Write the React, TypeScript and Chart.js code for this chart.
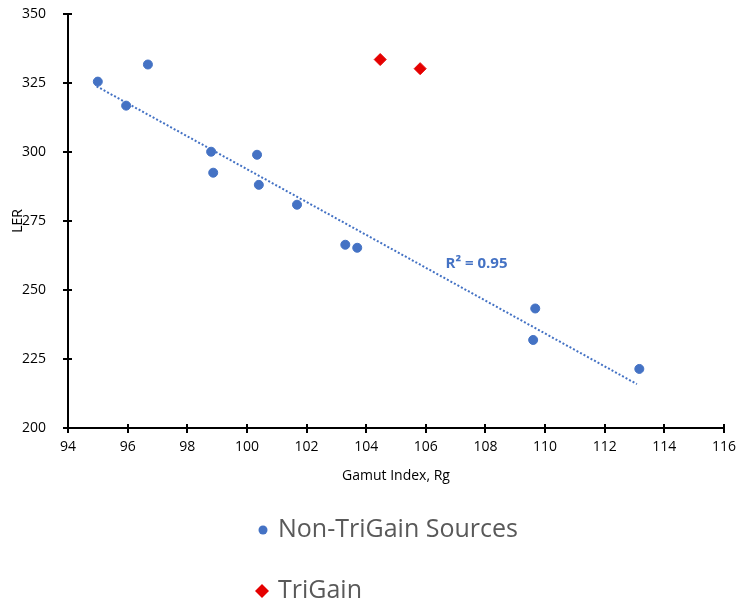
import React, { useEffect, useRef } from "react";
import { Chart, registerables } from "chart.js";

Chart.register(...registerables);

// ---- data ----
const nonTriGainX = [95.0, 95.95, 96.68, 98.8, 98.87, 100.34, 100.4, 101.68, 103.3, 103.7, 109.67, 109.6, 113.16];
const nonTriGainY = [325.5, 316.8, 331.7, 300.1, 292.5, 299.0, 288.1, 280.9, 266.4, 265.3, 243.3, 231.9, 221.4];
const triGainX = [104.47, 105.81];
const triGainY = [333.5, 330.2];
const trendX = [94.96, 113.08];
const trendY = [323.8, 215.9];
const xTickRange = [94, 116, 2];
const yTickRange = [200, 350, 25];
const seriesNames = ["Non-TriGain Sources", "TriGain"];
const xTitle = "Gamut Index, Rg";
const yTitle = "LER";
const r2Text = "R² = 0.95";
const r2Pos = [107.7, 259.5];

const BLUE = "#4472C4";
const RED = "#E50000";
const SMALL_FONT = "'Open Sans', 'Noto Sans', sans-serif";
const LEGEND_FONT = "'Open Sans', 'Noto Sans', sans-serif";

const overlay = {
  id: "overlay",
  afterDraw(chart: any) {
    const ctx = chart.ctx as CanvasRenderingContext2D;
    const xs = chart.scales.x;
    const ys = chart.scales.y;
    ctx.save();
    // cross tick marks
    ctx.strokeStyle = "#000";
    ctx.lineWidth = 2;
    ctx.beginPath();
    xs.ticks.forEach((t: any) => {
      const px = Math.round(xs.getPixelForValue(t.value));
      ctx.moveTo(px, ys.bottom - 4);
      ctx.lineTo(px, ys.bottom + 5);
    });
    ys.ticks.forEach((t: any) => {
      const py = Math.round(ys.getPixelForValue(t.value));
      ctx.moveTo(xs.left - 5, py);
      ctx.lineTo(xs.left + 4, py);
    });
    ctx.stroke();

    // axis titles
    ctx.fillStyle = "#000";
    ctx.font = `14px ${SMALL_FONT}`;
    ctx.textAlign = "center";
    ctx.textBaseline = "middle";
    ctx.fillText(xTitle, (xs.left + xs.right) / 2, 476);
    ctx.save();
    ctx.translate(18, 221);
    ctx.rotate(-Math.PI / 2);
    ctx.fillText(yTitle, 0, 0);
    ctx.restore();

    // R² label
    ctx.fillStyle = BLUE;
    ctx.font = `bold 15px ${SMALL_FONT}`;
    ctx.fillText(r2Text, xs.getPixelForValue(r2Pos[0]), ys.getPixelForValue(r2Pos[1]));

    // legend
    ctx.textAlign = "left";
    ctx.font = `25px ${LEGEND_FONT}`;
    ctx.fillStyle = BLUE;
    ctx.beginPath();
    ctx.arc(263, 530, 4.5, 0, Math.PI * 2);
    ctx.fill();
    ctx.fillStyle = "#595959";
    ctx.fillText(seriesNames[0], 278, 530);
    ctx.fillStyle = RED;
    ctx.beginPath();
    ctx.moveTo(262, 584);
    ctx.lineTo(269, 591);
    ctx.lineTo(262, 598);
    ctx.lineTo(255, 591);
    ctx.closePath();
    ctx.fill();
    ctx.fillStyle = "#595959";
    ctx.fillText(seriesNames[1], 278, 591);
    ctx.restore();
  },
};

export default function App() {
  const ref = useRef<HTMLCanvasElement>(null);
  useEffect(() => {
    if (!ref.current) return;
    const chart = new Chart(ref.current, {
      type: "scatter",
      data: {
        datasets: [
          {
            label: "trend",
            type: "line",
            data: trendX.map((x, i) => ({ x, y: trendY[i] })),
            borderColor: BLUE,
            borderWidth: 2,
            borderDash: [2, 2],
            pointRadius: 0,
            fill: false,
          } as any,
          {
            label: seriesNames[0],
            data: nonTriGainX.map((x, i) => ({ x, y: nonTriGainY[i] })),
            backgroundColor: BLUE,
            borderColor: BLUE,
            pointRadius: 4.5,
            pointStyle: "circle",
          },
          {
            label: seriesNames[1],
            data: triGainX.map((x, i) => ({ x, y: triGainY[i] })),
            backgroundColor: RED,
            borderColor: RED,
            pointRadius: 6,
            pointStyle: "rectRot",
          },
        ],
      },
      options: {
        responsive: false,
        animation: false,
        layout: { padding: { top: 14, right: 26, left: 0, bottom: 0 } },
        plugins: { legend: { display: false }, tooltip: { enabled: false } },
        scales: {
          x: {
            type: "linear",
            min: xTickRange[0],
            max: xTickRange[1],
            ticks: { stepSize: xTickRange[2], color: "#000", font: { family: SMALL_FONT, size: 14 }, padding: 3 },
            grid: { display: false },
            border: { display: true, color: "#000", width: 2 },
            afterFit: (s: any) => { s.height = 177; },
          },
          y: {
            type: "linear",
            min: yTickRange[0],
            max: yTickRange[1],
            ticks: { stepSize: yTickRange[2], color: "#000", font: { family: SMALL_FONT, size: 14 }, padding: 14 },
            grid: { display: false },
            border: { display: true, color: "#000", width: 2 },
            afterFit: (s: any) => { s.width = 68; s.paddingTop = 0; s.paddingBottom = 0; },
          },
        },
      },
      plugins: [overlay],
    });
    return () => chart.destroy();
  }, []);
  return (
    <div style={{ position: "absolute", left: 0, top: 0, width: 750, height: 605, background: "#fff" }}>
      <canvas ref={ref} width={750} height={605} />
    </div>
  );
}
